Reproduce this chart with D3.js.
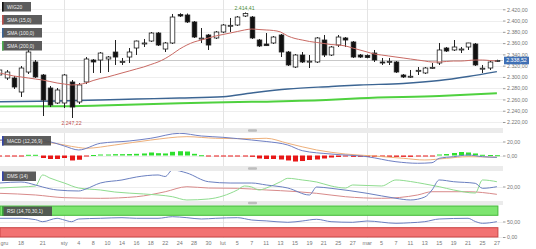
<!DOCTYPE html>
<html><head><meta charset="utf-8">
<script src="https://cdn.jsdelivr.net/npm/d3@7"></script>
<style>html,body{margin:0;padding:0;background:#fff;overflow:hidden}svg{display:block;font-family:"Liberation Sans",Arial,sans-serif}</style>
</head><body><svg id="c" width="536" height="249"></svg>
<script>
// ---------- DATA ----------
const dates = ["2018-12-13","2018-12-14","2018-12-17","2018-12-18","2018-12-19","2018-12-20","2018-12-21","2018-12-27","2018-12-28",
"2019-01-02","2019-01-03","2019-01-04","2019-01-07","2019-01-08","2019-01-09","2019-01-10","2019-01-11","2019-01-14","2019-01-15","2019-01-16","2019-01-17","2019-01-18","2019-01-21","2019-01-22","2019-01-23","2019-01-24","2019-01-25","2019-01-28","2019-01-29","2019-01-30","2019-01-31",
"2019-02-01","2019-02-04","2019-02-05","2019-02-06","2019-02-07","2019-02-08","2019-02-11","2019-02-12","2019-02-13","2019-02-14","2019-02-15","2019-02-18","2019-02-19","2019-02-20","2019-02-21","2019-02-22","2019-02-25","2019-02-26","2019-02-27","2019-02-28",
"2019-03-01","2019-03-04","2019-03-05","2019-03-06","2019-03-07","2019-03-08","2019-03-11","2019-03-12","2019-03-13","2019-03-14","2019-03-15","2019-03-18","2019-03-19","2019-03-20","2019-03-21","2019-03-22","2019-03-25","2019-03-26","2019-03-27"];

const open = [2303.4,2298.1,2298.1,2273.2,2308.7,2326.5,2303.4,2280.3,2253.7,2253.7,
2291.0,2255.5,2291.0,2330.0,2330.0,2331.8,2344.2,2327.0,2335.3,2351.3,
2359.5,2363.7,2377.9,2349.5,2360.2,2410.8,2409.9,2397.5,2368.2,2374.4,
2369.1,2379.7,2391.0,2392.1,2408.1,2406.3,2365.5,2358.4,2360.2,2374.4,
2344.2,2317.6,2338.9,2327.5,2326.5,2365.5,2338.9,2356.6,2369.1,2362.0,
2338.9,2338.0,2342.4,2326.5,2327.0,2326.5,2303.4,2300.5,2311.0,2307.0,
2316.5,2324.7,2351.3,2347.8,2349.0,2353.1,2358.4,2315.0,2315.8,2327.5];
const high = [2315.8,2312.3,2301.6,2319.4,2347.8,2330.0,2305.2,2283.9,2280.3,2305.2,
2294.5,2289.2,2335.3,2331.8,2344.2,2337.1,2365.5,2333.6,2351.3,2364.5,
2367.3,2379.7,2379.7,2362.0,2411.7,2413.0,2412.5,2399.2,2386.8,2376.2,
2381.5,2393.9,2404.6,2408.1,2414.41,2408.1,2367.3,2377.9,2372.6,2376.2,
2346.0,2340.7,2344.2,2338.9,2370.8,2374.4,2354.9,2374.4,2370.8,2363.7,
2340.7,2340.0,2347.8,2333.6,2333.6,2328.2,2305.2,2312.3,2317.6,2317.6,
2324.7,2360.2,2353.1,2365.5,2353.1,2360.5,2360.2,2321.2,2328.2,2330.5];
const low = [2299.9,2294.5,2278.6,2264.4,2305.2,2298.1,2230.6,2246.6,2251.9,2244.8,
2227.1,2251.9,2287.4,2307.0,2307.0,2308.7,2321.2,2321.2,2324.7,2338.9,
2353.1,2362.0,2354.9,2344.2,2358.4,2406.3,2395.7,2369.1,2360.2,2347.8,
2367.3,2377.9,2379.7,2390.4,2406.3,2367.3,2353.1,2354.9,2358.4,2335.3,
2319.4,2315.8,2324.7,2315.8,2324.7,2335.3,2337.1,2353.1,2353.1,2333.6,
2333.6,2333.0,2326.5,2321.2,2321.2,2307.0,2298.1,2298.1,2303.4,2305.2,
2314.1,2321.2,2344.2,2346.0,2342.4,2347.8,2319.4,2307.0,2312.3,2326.5];
const close = [2312.3,2308.7,2282.1,2315.8,2344.2,2299.9,2259.0,2250.2,2276.8,2303.4,
2246.6,2285.7,2331.8,2326.5,2342.4,2335.3,2335.3,2327.5,2344.2,2363.7,
2360.2,2377.9,2356.6,2360.2,2406.3,2408.1,2397.5,2370.8,2368.9,2356.6,
2379.7,2392.1,2391.6,2406.3,2412.5,2369.1,2354.9,2355.5,2370.8,2344.2,
2321.2,2338.9,2326.5,2328.0,2369.1,2338.9,2353.1,2370.8,2365.5,2335.3,
2335.3,2334.5,2330.0,2324.7,2327.6,2308.7,2299.9,2301.2,2311.7,2315.8,
2317.0,2347.8,2346.0,2353.1,2349.5,2360.2,2321.2,2315.5,2326.5,2329.2];

const sma15 = [2307.0,2304.3,2301.6,2299.9,2298.1,2296.3,2294.5,2291.9,2289.2,2287.4,
2285.7,2286.6,2289.2,2293.6,2297.2,2299.9,2303.4,2307.0,2310.5,2314.1,
2317.6,2322.0,2326.5,2332.7,2340.7,2349.5,2356.6,2362.0,2365.5,2369.1,
2372.6,2375.3,2377.9,2380.6,2383.3,2385.0,2384.1,2383.3,2382.4,2379.7,
2372.6,2368.2,2365.5,2362.9,2361.1,2359.3,2357.5,2356.6,2354.9,2351.3,
2347.8,2344.2,2340.7,2338.9,2337.1,2335.3,2333.6,2331.8,2330.0,2328.2,
2326.5,2326.5,2327.4,2328.2,2328.2,2329.1,2330.0,2330.0,2329.1,2328.2];
const sma100Idx = [0,8,14,19,25,31,35,40,46,50,56,61,65,69];
const sma100 = [2256.0,2257.3,2259.0,2260.8,2262.6,2264.9,2271.5,2278.6,2283.0,2285.7,2288.3,2293.6,2300.7,2309.3];
const sma200Idx = [0,8,14,25,35,46,50,61,69];
const sma200 = [2247.5,2247.9,2249.3,2253.2,2255.8,2259.4,2262.1,2266.1,2270.9];

const macdHist = [-1.4,-1.4,-1.4,-1.4,1.0,1.0,-3.6,-5.0,-5.0,-3.6,
-7.1,-6.1,-1.4,0.7,1.4,1.4,1.9,1.9,2.1,2.4,
2.9,4.3,3.3,2.9,5.3,6.1,5.7,2.4,0.4,-1.4,
-1.4,-1.4,-1.4,-1.4,-1.4,-1.9,-4.3,-5.0,-5.0,-5.7,
-7.1,-8.6,-7.9,-6.4,-5.7,-4.3,-2.9,-2.1,-1.0,-1.9,
-1.9,-1.9,-1.9,-1.9,-1.9,-1.9,-1.9,-1.9,-1.4,-1.4,
-1.0,1.4,2.1,3.6,5.0,4.3,2.9,1.0,0.7,0.4];
const macdIdx = [0,4,7,9,11,14,18,21,25,28,31,35,37,40,42,46,51,55,58,60,61,63,65,67,69];
const macdLine = [22.1,22.9,19.7,13.6,7.9,17.4,20.7,24.6,31.7,27.9,26.0,22.1,20,15,6.9,2.1,-1.7,-8.9,-11.1,-10.3,-4,-1.7,0.7,-1.7,-2.6];
const signalIdx = [0,7,11,12,16,21,26,30,35,37,40,44,48,52,56,59,62,65,69];
const signalLine = [21.4,18.3,11.4,10.3,15,22.1,26.9,24.6,24,24.6,17.4,7.9,2.1,-0.7,-4,-6.4,-4,-1.7,-2.6];

const adxIdx = [0,3,5,6,8,11,12,14,17,19,22,23,24,26,29,32,35,37,40,43,44,46,51,55,57,59,60,61,63,66,67,69];
const adx = [24.8,26.2,22.1,19.3,15.2,13.8,16.6,24.8,29,33.1,35.9,33.8,42.8,38.6,26.6,24.8,24.8,22.1,17.9,8.3,19.3,17.5,10.6,3.7,1.4,5.5,15.2,29,26.6,24.4,17.5,19.7];
const pdiIdx = [0,3,5,6,7,9,11,14,16,20,24,26,29,33,34,35,36,37,39,40,42,44,46,48,49,53,55,57,59,61,63,66,67,69];
const pdi = [17.9,19.3,20.7,35.9,31.7,24.8,17.9,15.2,12.4,9.7,5.9,1.4,2.8,15.2,20.7,19.3,15.2,17.9,26.6,31.3,29,26.2,20.7,17.9,22.1,20.7,29,26.9,23.5,19.7,15.2,11,29,26.6];
const mdiIdx = [0,5,9,14,19,23,26,29,33,37,41,44,48,53,58,60,65,69];
const mdi = [10.6,8.3,4.6,3.7,5.9,12.8,19.7,17.9,17.5,15.2,13.1,10.6,5.9,3.7,8.3,12.8,12.8,9.2];

const rsiIdx = [0,3,5,6,8,9,10,11,14,17,19,22,24,26,28,30,33,35,37,40,42,44,46,49,51,55,57,59,61,65,66,67,69];
const rsi = [60.3,60.3,56,49.4,60.3,54.8,49.4,58.1,60.3,62.3,60.3,60.3,65.5,62.3,58.1,60.3,62.3,54.8,52,47.4,51.6,57.1,49.4,47.4,51.6,44.2,46,49.4,58.1,60.3,50,44.2,49.4];

const mainTicks = [2220,2240,2260,2280,2300,2320,2340,2360,2380,2400,2420];
const macdTicks = [0,20];
const dmsTicks = [20];
const rsiTicks = [0,50];
const rsiBands = [[70,100],[0,30]];
const xLabelDates = ["2018-12-13","2018-12-18","2018-12-21","2019-01-02","2019-01-04","2019-01-08","2019-01-10","2019-01-14","2019-01-16","2019-01-18","2019-01-22","2019-01-24","2019-01-28","2019-01-30","2019-02-01","2019-02-05","2019-02-07","2019-02-11","2019-02-13","2019-02-15","2019-02-19","2019-02-21","2019-02-25","2019-02-27","2019-03-01","2019-03-05","2019-03-07","2019-03-11","2019-03-13","2019-03-15","2019-03-19","2019-03-21","2019-03-25","2019-03-27"];
const xLabelText = ["gru","18","21","sty","4","8","10","14","16","18","22","24","28","30","lut","5","7","11","13","15","19","21","25","27","mar","5","7","11","13","15","19","21","25","27"];
const monthStarts = ["2019-01-02","2019-02-01","2019-03-01"];
const legendMain = ["WIG20","SMA (15,0)","SMA (100,0)","SMA (200,0)"];
const legendColors = ["#111","#c0504d","#3a6496","#4caf50"];
const highLabel = "2.414,41", lowLabel = "2.247,22", lastLabel = "2.338,52";

// ---------- CHART ----------
const svg = d3.select("#c");
const loc = d3.formatLocale({decimal:",",thousands:".",grouping:[3],currency:["",""]});
const fmt = loc.format(",.2f");
const PR = 503;
const x = d3.scalePoint().domain(dates).range([-0.6, 496.9]);
const yMain = d3.scaleLinear().domain([2220,2420]).range([122,9.3]);
const yMacd = d3.scaleLinear().domain([0,20]).range([155.5,141.5]);
const yDms = d3.scaleLinear().domain([0,20]).range([201,186.5]);
const yRsi = d3.scaleLinear().domain([0,100]).range([237,206]);
const panels = [[0,128],[133,166],[171,201],[205,238]];

const defs = svg.append("defs");
panels.forEach((p,i)=>defs.append("clipPath").attr("id","cp"+i).append("rect").attr("x",0).attr("y",p[0]).attr("width",PR).attr("height",p[1]-p[0]));

// gridlines
const grid = svg.append("g").attr("stroke","#eeeeee").attr("stroke-width",1);
mainTicks.forEach(t=>grid.append("line").attr("x1",0).attr("x2",PR).attr("y1",Math.round(yMain(t))+0.5).attr("y2",Math.round(yMain(t))+0.5));
macdTicks.forEach(t=>grid.append("line").attr("x1",0).attr("x2",PR).attr("y1",Math.round(yMacd(t))+0.5).attr("y2",Math.round(yMacd(t))+0.5));
dmsTicks.forEach(t=>grid.append("line").attr("x1",0).attr("x2",PR).attr("y1",Math.round(yDms(t))+0.5).attr("y2",Math.round(yDms(t))+0.5));
rsiTicks.forEach(t=>grid.append("line").attr("x1",0).attr("x2",PR).attr("y1",Math.round(yRsi(t))+0.5).attr("y2",Math.round(yRsi(t))+0.5));
monthStarts.forEach(d=>svg.append("line").attr("x1",Math.round(x(d))+0.5).attr("x2",Math.round(x(d))+0.5).attr("y1",0).attr("y2",238).attr("stroke","#e4e4e4"));

// separators
[[128,133],[166,171],[201,205]].forEach(s=>{
  svg.append("rect").attr("x",0).attr("y",s[0]).attr("width",PR).attr("height",s[1]-s[0]).attr("fill","#ebebeb");
  svg.append("rect").attr("x",248).attr("y",(s[0]+s[1])/2-1.2).attr("width",9).attr("height",2.4).attr("rx",1).attr("fill","#bdbdbd");
});

// ---- main panel
const gm = svg.append("g").attr("clip-path","url(#cp0)");
// last price line
const lastY = Math.round(yMain(close[close.length-1]))+0.5;
gm.append("line").attr("x1",0).attr("x2",PR).attr("y1",lastY).attr("y2",lastY).attr("stroke","#c8c8c8");

const lineMain = d3.line().curve(d3.curveMonotoneX);
gm.append("path").attr("d",lineMain(sma200Idx.map((i,k)=>[x(dates[i]),yMain(sma200[k])]))).attr("fill","none").attr("stroke","#4fd13f").attr("stroke-width",2);
gm.append("path").attr("d",lineMain(sma100Idx.map((i,k)=>[x(dates[i]),yMain(sma100[k])]))).attr("fill","none").attr("stroke","#3c6593").attr("stroke-width",1.4);

const cw = 4.6;
dates.forEach((d,i)=>{
  const cx = Math.round(x(d))+0.5;
  const up = close[i]>=open[i];
  gm.append("line").attr("x1",cx).attr("x2",cx).attr("y1",yMain(high[i])).attr("y2",yMain(low[i])).attr("stroke","#222").attr("stroke-width",1);
  const t = yMain(Math.max(open[i],close[i])), b = yMain(Math.min(open[i],close[i]));
  gm.append("rect").attr("x",cx-cw/2).attr("y",t).attr("width",cw).attr("height",Math.max(1,b-t))
    .attr("fill",up?"#fff":"#111").attr("stroke","#222").attr("stroke-width",0.8);
});
gm.append("path").attr("d",lineMain(sma15.map((v,i)=>[x(dates[i]),yMain(v)]))).attr("fill","none").attr("stroke","#c96a64").attr("stroke-width",1);

// high / low labels
const hi = high.indexOf(d3.max(high)), lo = low.indexOf(d3.min(low));
svg.append("text").attr("x",x(dates[hi])).attr("y",yMain(high[hi])-2.5).attr("text-anchor","middle").attr("font-size",5.2).attr("fill","#4e8f3e").text(highLabel);
svg.append("text").attr("x",x(dates[lo])).attr("y",yMain(low[lo])+7).attr("text-anchor","middle").attr("font-size",5.2).attr("fill","#c0504d").text(lowLabel);

// ---- MACD
const g1 = svg.append("g").attr("clip-path","url(#cp1)");
macdHist.forEach((v,i)=>{
  const cx = Math.round(x(dates[i]))+0.5;
  const y0 = yMacd(0), y1 = yMacd(v);
  g1.append("rect").attr("x",cx-2.5).attr("y",Math.min(y0,y1)).attr("width",5).attr("height",Math.max(1,Math.abs(y1-y0)))
    .attr("fill",v>=0?"#2ee02e":"#e81818");
});
g1.append("path").attr("d",lineMain(signalIdx.map((i,k)=>[x(dates[i]),yMacd(signalLine[k])]))).attr("fill","none").attr("stroke","#eeb07a").attr("stroke-width",1);
g1.append("path").attr("d",lineMain(macdIdx.map((i,k)=>[x(dates[i]),yMacd(macdLine[k])]))).attr("fill","none").attr("stroke","#6f7fc4").attr("stroke-width",1);

// ---- DMS
const g2 = svg.append("g").attr("clip-path","url(#cp2)");
g2.append("path").attr("d",lineMain(mdiIdx.map((i,k)=>[x(dates[i]),yDms(mdi[k])]))).attr("fill","none").attr("stroke","#d88a8a").attr("stroke-width",1);
g2.append("path").attr("d",lineMain(pdiIdx.map((i,k)=>[x(dates[i]),yDms(pdi[k])]))).attr("fill","none").attr("stroke","#8fdc8f").attr("stroke-width",1);
g2.append("path").attr("d",lineMain(adxIdx.map((i,k)=>[x(dates[i]),yDms(adx[k])]))).attr("fill","none").attr("stroke","#6a7fc0").attr("stroke-width",1);

// ---- RSI
const g3 = svg.append("g").attr("clip-path","url(#cp3)");
const bandX1 = x(dates[dates.length-1])+1;
g3.append("rect").attr("x",0).attr("y",yRsi(rsiBands[0][1])).attr("width",bandX1).attr("height",yRsi(rsiBands[0][0])-yRsi(rsiBands[0][1])).attr("fill","#7de570").attr("stroke","#45b83a").attr("stroke-width",1);
g3.append("rect").attr("x",0).attr("y",yRsi(rsiBands[1][1])).attr("width",bandX1).attr("height",yRsi(rsiBands[1][0])-yRsi(rsiBands[1][1])).attr("fill","#f27272").attr("stroke","#c94444").attr("stroke-width",1);
g3.append("path").attr("d",lineMain(rsiIdx.map((i,k)=>[x(dates[i]),yRsi(rsi[k])]))).attr("fill","none").attr("stroke","#6a7fc0").attr("stroke-width",1);

// ---- right axes
function rAxis(scale, ticks){
  const g = svg.append("g").attr("transform",`translate(${PR},0)`)
    .call(d3.axisRight(scale).tickValues(ticks).tickSize(2.5).tickPadding(1.5).tickFormat(fmt));
  g.select(".domain").remove();
  g.selectAll("line").attr("stroke","#999");
  g.selectAll("text").attr("font-size",5.3).attr("fill","#777").attr("font-family","Liberation Sans, Arial, sans-serif");
}
rAxis(yMain, mainTicks); rAxis(yMacd, macdTicks); rAxis(yDms, dmsTicks); rAxis(yRsi, rsiTicks);

// last price tag
svg.append("rect").attr("x",PR+1).attr("y",lastY-3.8).attr("width",25).attr("height",7.6).attr("fill","#3f70b5");
svg.append("text").attr("x",PR+13.5).attr("y",lastY+1.9).attr("text-anchor","middle").attr("font-size",5.3).attr("fill","#fff").text(lastLabel);

// ---- x labels
xLabelDates.forEach((d,i)=>{
  const t = svg.append("text").attr("y",245).attr("font-size",5.4).attr("fill","#777").text(xLabelText[i]);
  const w = t.node().getComputedTextLength();
  t.attr("x",Math.max(0.5, x(d)-w/2));
});

// ---- legends
function legend(txt, col, y, w){
  svg.append("rect").attr("x",2).attr("y",y).attr("width",w).attr("height",9.5).attr("fill","#4e4e4e").attr("opacity",0.92);
  svg.append("rect").attr("x",2).attr("y",y).attr("width",1.6).attr("height",9.5).attr("fill",col);
  svg.append("text").attr("x",7).attr("y",y+6.6).attr("font-size",4.9).attr("fill","#f0f0f0").text(txt);
}
legend(legendMain[0],legendColors[0],2,29);
legend(legendMain[1],legendColors[1],15,40);
legend(legendMain[2],legendColors[2],28,40);
legend(legendMain[3],legendColors[3],41,40);
legend("MACD (12,26,9)","#3344aa",136,49);
legend("DMS (14)","#3344aa",171.5,34);
legend("RSI (14,70,30,1)","#3aa83a",206.5,50);
</script></body></html>
